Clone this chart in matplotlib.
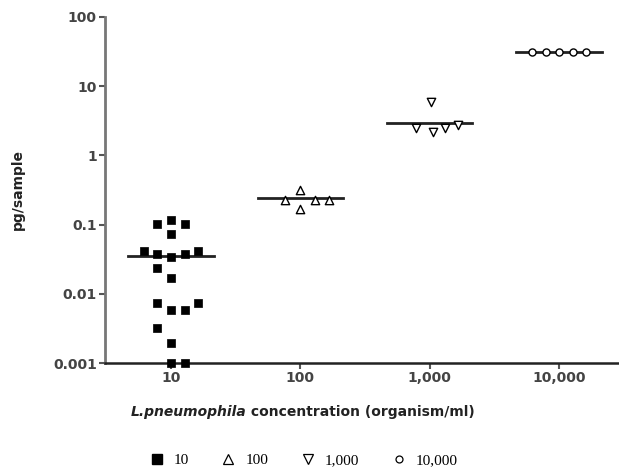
import numpy as np
import matplotlib
matplotlib.use('Agg')
import matplotlib.pyplot as plt
from matplotlib.lines import Line2D

plt.rcParams['font.family'] = ['DejaVu Sans']

# concentration groups (organism/ml)
groups = [10, 100, 1000, 10000]
group_labels = ['10', '100', '1,000', '10,000']

vals_10 = [0.103, 0.118, 0.103, 0.072, 0.041, 0.038, 0.0335, 0.038, 0.041,
           0.0233, 0.0167, 0.0074, 0.0059, 0.0059, 0.0074, 0.0032, 0.00195,
           0.001, 0.001]
vals_100 = [0.23, 0.32, 0.17, 0.23, 0.23]
vals_1000 = [2.5, 5.8, 2.14, 2.45, 2.7]
vals_10000 = [30.6, 30.6, 30.6, 30.6, 30.6]

# horizontal centre line per group
centre_vals = [0.0346, 0.24, 2.9, 30.6]

y_ticks = [0.001, 0.01, 0.1, 1, 10, 100]
y_ticklabels = ['0.001', '0.01', '0.1', '1', '10', '100']

# swarm offsets (in units of one marker step) - layout only
dx_10 = [-1, 0, 1, 0, -2, -1, 0, 1, 2, -1, 0, -1, 0, 1, 2, -1, 0, 0, 1]
dx_100 = [-1.1, 0, 0, 1.1, 2.1]
dx_1000 = [-1, 0.1, 0.2, 1.1, 2.1]
dx_10000 = [-2, -1, 0, 1, 2]
step = 0.105  # decades per marker step

fig = plt.figure(figsize=(6.19, 4.69), dpi=100)
ax = fig.add_axes([0.170, 0.226, 0.830, 0.738])

styles = [
    dict(marker='s', s=36, c='black', edgecolors='black', linewidths=0.5),
    dict(marker='^', s=36, facecolors='white', edgecolors='black', linewidths=1.0),
    dict(marker='v', s=36, facecolors='white', edgecolors='black', linewidths=1.0),
    dict(marker='o', s=26, facecolors='white', edgecolors='black', linewidths=1.0),
]
all_vals = [vals_10, vals_100, vals_1000, vals_10000]
all_dx = [dx_10, dx_100, dx_1000, dx_10000]

for g, vals, dx, st, c in zip(groups, all_vals, all_dx, styles, centre_vals):
    xs = [g * 10 ** (d * step) for d in dx]
    ax.plot([g * 10 ** -0.33, g * 10 ** 0.33], [c, c], color='#222222', lw=2.0, zorder=2)
    ax.scatter(xs, vals, zorder=3, clip_on=False, **st)

ax.set_xscale('log')
ax.set_yscale('log')
ax.set_xlim(3.1, 29000)
ax.set_ylim(0.001, 100)
ax.set_xticks(groups)
ax.set_xticklabels(group_labels)
ax.set_yticks(y_ticks)
ax.set_yticklabels(y_ticklabels)
ax.minorticks_off()

for side in ['top', 'right']:
    ax.spines[side].set_visible(False)
ax.spines['left'].set_color('#777777')
ax.spines['left'].set_linewidth(2.0)
ax.spines['bottom'].set_color('#222222')
ax.spines['bottom'].set_linewidth(1.8)
ax.tick_params(axis='both', direction='out', length=4, width=1.5, color='#555555',
               labelsize=10, labelcolor='#444444', pad=2)
for lab in ax.get_xticklabels() + ax.get_yticklabels():
    lab.set_fontweight('bold')

ax.set_ylabel('pg/sample', fontsize=10, fontweight='bold', color='#222222', labelpad=20)

# x label: italic species name followed by plain bold text
xl_y = 1 - 412 / 469
part1 = 'L.pneumophila'
part2 = ' concentration (organism/ml)'
fig.canvas.draw()
renderer = fig.canvas.get_renderer()
t1 = fig.text(0, xl_y, part1, fontsize=10, fontweight='bold', style='italic',
              color='#222222', va='center')
t2 = fig.text(0, xl_y, part2, fontsize=10, fontweight='bold',
              color='#222222', va='center')
w1 = t1.get_window_extent(renderer).width / fig.bbox.width
w2 = t2.get_window_extent(renderer).width / fig.bbox.width
x0 = 303 / 619 - (w1 + w2) / 2
t1.set_x(x0)
t2.set_x(x0 + w1)

leg_handles = [
    Line2D([], [], ls='', marker='s', ms=7, mfc='black', mec='black'),
    Line2D([], [], ls='', marker='^', ms=7.5, mfc='white', mec='black', mew=0.9),
    Line2D([], [], ls='', marker='v', ms=7.5, mfc='white', mec='black', mew=0.9),
    Line2D([], [], ls='', marker='o', ms=5, mfc='white', mec='black', mew=0.9),
]
fig.legend(leg_handles, group_labels, loc='center', bbox_to_anchor=(0.49, 0.018),
           ncol=4, frameon=False, handlelength=1.0, handletextpad=0.6,
           columnspacing=2.1, prop={'family': 'Liberation Serif', 'size': 11})

fig.savefig('out.png', dpi=100)
